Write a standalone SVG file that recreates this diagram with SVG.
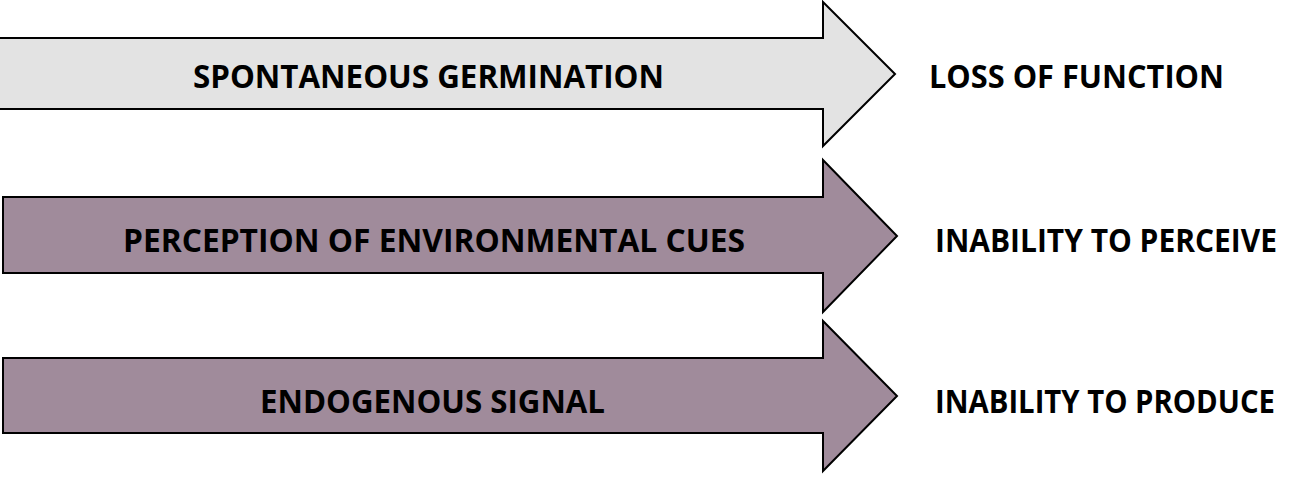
<svg xmlns="http://www.w3.org/2000/svg" width="1299" height="479" viewBox="0 0 1299 479">
  <style>
    .arrow { stroke: #000; stroke-width: 2; stroke-linejoin: miter; }
    .grey { fill: #E3E3E3; }
    .mauve { fill: #A08B9B; }
    .label { font-family: "Open Sans", "Liberation Sans", Arial, sans-serif; font-weight: bold; font-size: 32px; fill: #000; }
  </style>
  <rect width="1299" height="479" fill="#fff"/>

  <g id="spontaneous-germination">
    <path class="arrow grey" d="M-10,38 L823,38 L823,2 L895,74 L823,146 L823,109 L-10,109 Z"/>
    <text class="label" x="193" y="88" textLength="471" lengthAdjust="spacingAndGlyphs">SPONTANEOUS GERMINATION</text>
  </g>
  <g id="loss-of-function">
    <text class="label" x="929" y="88" textLength="295" lengthAdjust="spacingAndGlyphs">LOSS OF FUNCTION</text>
  </g>

  <g id="perception-of-environmental-cues">
    <path class="arrow mauve" d="M3,197 L823,197 L823,160 L897,236 L823,312 L823,273 L3,273 Z"/>
    <text class="label" x="123" y="252" textLength="622" lengthAdjust="spacingAndGlyphs">PERCEPTION OF ENVIRONMENTAL CUES</text>
  </g>
  <g id="inability-to-perceive">
    <text class="label" x="935" y="252" textLength="342" lengthAdjust="spacingAndGlyphs">INABILITY TO PERCEIVE</text>
  </g>

  <g id="endogenous-signal">
    <path class="arrow mauve" d="M3,358 L823,358 L823,321 L897,396 L823,471 L823,433 L3,433 Z"/>
    <text class="label" x="260" y="413" textLength="345" lengthAdjust="spacingAndGlyphs">ENDOGENOUS SIGNAL</text>
  </g>
  <g id="inability-to-produce">
    <text class="label" x="935" y="413" textLength="340" lengthAdjust="spacingAndGlyphs">INABILITY TO PRODUCE</text>
  </g>

  <g id="connectors"/>
</svg>
